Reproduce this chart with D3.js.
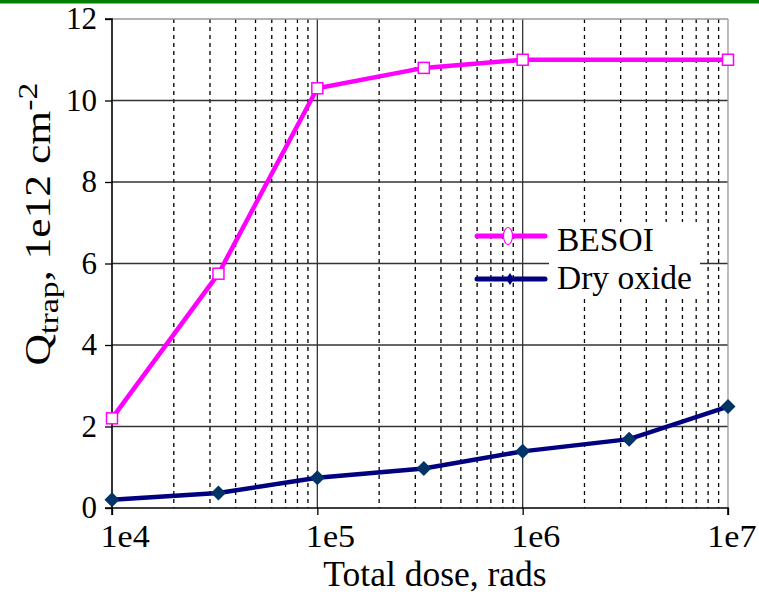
<!DOCTYPE html>
<html>
<head>
<meta charset="utf-8">
<script src="https://cdn.jsdelivr.net/npm/d3@7/dist/d3.min.js"></script>
<style>
  html, body { margin: 0; padding: 0; background: #fff; }
  svg { display: block; }
  svg text { fill: #000; }
</style>
</head>
<body>
<svg id="chart" width="759" height="597"></svg>
<script>
// ---- data ----
const besoiDose = [1e4, 3.3e4, 1e5, 3.3e5, 1e6, 1e7];
const besoiQ    = [2.2, 5.75, 10.3, 10.8, 11.0, 11.0];
const dryDose   = [1e4, 3.3e4, 1e5, 3.3e5, 1e6, 3.3e6, 1e7];
const dryQ      = [0.2, 0.37, 0.74, 0.97, 1.39, 1.69, 2.49];
const xTicks    = [1e4, 1e5, 1e6, 1e7];
const yTicks    = [0, 2, 4, 6, 8, 10, 12];
const seriesNames = ["BESOI", "Dry oxide"];

const FONT = '"Liberation Serif", Tinos, "Times New Roman", Times, "DejaVu Serif", serif';
const svg = d3.select("#chart");
const L = 112, R = 728, T = 19, B = 508;
const x = d3.scaleLog().domain([1e4, 1e7]).range([L, R]);
const y = d3.scaleLinear().domain([0, 12]).range([B, T]);

// green bar on top
svg.append("rect").attr("x", 0).attr("y", 0).attr("width", 759).attr("height", 3.5).attr("fill", "#008000");

// minor vertical gridlines (dashed)
const minor = [];
for (let e = 4; e < 7; e++) for (let m = 2; m <= 9; m++) minor.push(m * Math.pow(10, e));
svg.append("g").selectAll("line").data(minor).join("line")
  .attr("x1", d => x(d)).attr("x2", d => x(d)).attr("y1", T).attr("y2", B)
  .attr("stroke", "#000").attr("stroke-width", 1.3).attr("stroke-dasharray", "4,4");

// horizontal major gridlines
svg.append("g").selectAll("line").data(yTicks.filter(v => v > 0 && v < 12)).join("line")
  .attr("x1", L).attr("x2", R).attr("y1", d => y(d)).attr("y2", d => y(d))
  .attr("stroke", "#333").attr("stroke-width", 1.3);
// vertical major gridlines
svg.append("g").selectAll("line").data(xTicks.filter(v => v > 1e4 && v < 1e7)).join("line")
  .attr("x1", d => x(d)).attr("x2", d => x(d)).attr("y1", T).attr("y2", B)
  .attr("stroke", "#333").attr("stroke-width", 1.3);

// top and right borders (gray)
svg.append("line").attr("x1", L).attr("x2", R).attr("y1", T).attr("y2", T).attr("stroke", "#999").attr("stroke-width", 1.3);
svg.append("line").attr("x1", R).attr("x2", R).attr("y1", T).attr("y2", B).attr("stroke", "#999").attr("stroke-width", 1.3);

// axes
const yAxis = svg.append("g").attr("transform", `translate(${L},0)`)
  .call(d3.axisLeft(y).tickValues(yTicks).tickSize(7).tickPadding(8).tickFormat(d3.format("d")));
const xAxis = svg.append("g").attr("transform", `translate(0,${B})`)
  .call(d3.axisBottom(x).tickValues(xTicks).tickSize(7).tickPadding(10).tickFormat(d => "1e" + Math.round(Math.log10(d))));
[yAxis, xAxis].forEach(g => {
  g.attr("font-family", FONT).attr("font-size", 31);
  g.select(".domain").attr("stroke", "#000").attr("stroke-width", 1.6);
  g.selectAll(".tick line").attr("stroke", "#000").attr("stroke-width", 1.3);
  g.selectAll(".tick text").attr("fill", "#000");
});
const SX = 1.1;
xAxis.selectAll(".tick text")
  .attr("text-anchor", "start")
  .each(function(d) {
    const w = this.getComputedTextLength() * SX;
    const left = Math.min(-12, 756 - x(d) - w);
    d3.select(this).attr("transform", `translate(${left},0) scale(${SX},1)`);
  });
xAxis.select(".domain").attr("d", `M${L},7V0H${R}V7`);
yAxis.select(".domain").attr("d", `M-7,${T}H0V${B}H-7`);

// lines
const line = d3.line().x(d => x(d[0])).y(d => y(d[1]));
const besoi = besoiDose.map((d, i) => [d, besoiQ[i]]);
const dry = dryDose.map((d, i) => [d, dryQ[i]]);

svg.append("path").datum(besoi).attr("d", line).attr("fill", "none")
  .attr("stroke", "#ff00ff").attr("stroke-width", 4.5);
svg.append("path").datum(dry).attr("d", line).attr("fill", "none")
  .attr("stroke", "#000080").attr("stroke-width", 4.5);

// markers
svg.append("g").selectAll("rect").data(besoi).join("rect")
  .attr("x", d => x(d[0]) - 5.5).attr("y", d => y(d[1]) - 5.5)
  .attr("width", 11).attr("height", 11)
  .attr("fill", "#fff").attr("stroke", "#ff00ff").attr("stroke-width", 1.5);
svg.append("g").selectAll("path").data(dry).join("path")
  .attr("transform", d => `translate(${x(d[0])},${y(d[1])})`)
  .attr("d", "M0,-7.5L7.5,0L0,7.5L-7.5,0Z")
  .attr("fill", "#003366");

// legend
const lg = svg.append("g").attr("font-family", FONT);
lg.append("rect").attr("x", 549).attr("y", 222).attr("width", 151).attr("height", 75).attr("fill", "#fff");
const legY = [236, 279];
const legTextY = [251, 289];
const legColors = ["#ff00ff", "#000080"];
seriesNames.forEach((name, i) => {
  lg.append("line").attr("x1", 477).attr("x2", 545).attr("y1", legY[i]).attr("y2", legY[i])
    .attr("stroke", legColors[i]).attr("stroke-width", 5).attr("stroke-linecap", "round");
  lg.append("text").attr("x", 557).attr("y", legTextY[i]).attr("font-size", 33.5).text(name);
});
lg.append("ellipse").attr("cx", 508).attr("cy", legY[0]).attr("rx", 4.5).attr("ry", 8.5)
  .attr("fill", "#fff").attr("stroke", "#ff00ff").attr("stroke-width", 1.2);
lg.append("path").attr("transform", `translate(510,${legY[1]})`)
  .attr("d", "M0,-6L4,0L0,6L-4,0Z").attr("fill", "#000080");

// axis titles
svg.append("text").attr("x", 435).attr("y", 586).attr("text-anchor", "middle")
  .attr("font-family", FONT).attr("font-size", 35.5).text("Total dose, rads");

const yt = svg.append("text").attr("transform", "translate(50,224) rotate(-90) scale(1.21,1)")
  .attr("text-anchor", "middle").attr("font-family", FONT).attr("font-size", 36);
yt.append("tspan").text("Q");
yt.append("tspan").attr("font-size", 28).attr("dy", 8).text("trap");
yt.append("tspan").attr("dy", -8).text(", 1e12 cm");
yt.append("tspan").attr("font-size", 28).attr("dy", -13).text("-2");
</script>
</body>
</html>
